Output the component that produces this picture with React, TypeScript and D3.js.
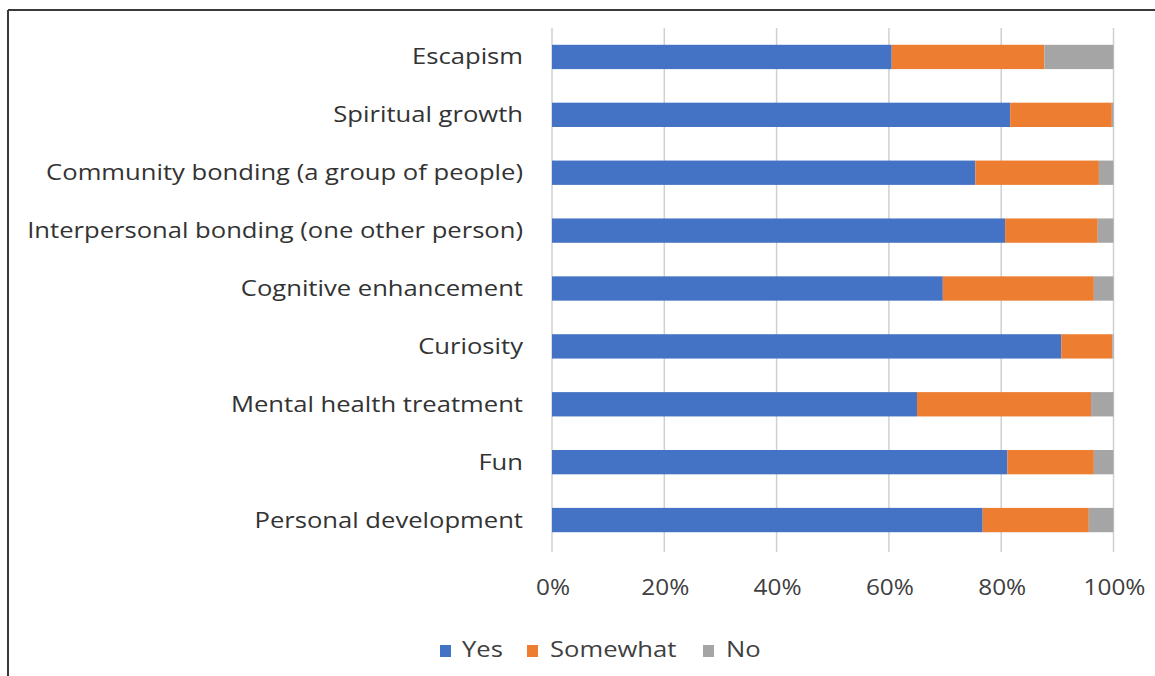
import React from "react";
import * as d3 from "d3";

const categories = [
  "Escapism",
  "Spiritual growth",
  "Community bonding (a group of people)",
  "Interpersonal bonding (one other person)",
  "Cognitive enhancement",
  "Curiosity",
  "Mental health treatment",
  "Fun",
  "Personal development",
];
const yesValues = [60.5, 81.6, 75.4, 80.7, 69.6, 90.7, 65.0, 81.1, 76.7];
const somewhatValues = [27.2, 18.1, 22.0, 16.5, 26.9, 9.1, 31.0, 15.4, 18.9];
const noValues = [12.3, 0.3, 2.6, 2.8, 3.5, 0.2, 4.0, 3.5, 4.4];
const seriesNames = ["Yes", "Somewhat", "No"];
const seriesColors = ["#4472C4", "#ED7D31", "#A5A5A5"];
const xTicks = [0, 20, 40, 60, 80, 100];

const W = 1155;
const H = 676;
const FONT = "'Open Sans', 'Noto Sans', sans-serif";
const STRETCH = 1.22;
const TICK_STRETCH = 1.16;

export default function App() {
  const x = d3.scaleLinear().domain([0, 100]).range([552, 1113.5]);
  const y = d3.scaleBand<string>().domain(categories).range([28, 549]).paddingInner(0.58).paddingOuter(0.29);
  const data = categories.map((c, i) => ({ c, Yes: yesValues[i], Somewhat: somewhatValues[i], No: noValues[i] }));
  const stack = d3.stack<any>().keys(seriesNames)(data);

  const legendItems = [
    { name: "Yes", sx: 440, tx: 462 },
    { name: "Somewhat", sx: 527, tx: 550 },
    { name: "No", sx: 703, tx: 726 },
  ];

  return (
    <svg width={W} height={H} style={{ position: "absolute", left: 0, top: 0, background: "#fff" }} fontFamily={FONT}>
      <line x1={8} y1={10} x2={W} y2={10} stroke="#3a3a3a" strokeWidth={2} />
      <line x1={8} y1={10} x2={8} y2={H} stroke="#3a3a3a" strokeWidth={2} />
      {xTicks.map((t) => (
        <g key={t}>
          <line x1={x(t)} x2={x(t)} y1={28} y2={552} stroke="#d0d0d0" strokeWidth={1.5} />
          <text
            transform={`translate(${x(t) + 1},595) scale(${TICK_STRETCH},1)`}
            textAnchor="middle"
            fontSize={21}
            fill="#404040"
          >
            {t}%
          </text>
        </g>
      ))}
      {stack.map((s, si) => (
        <g key={s.key} fill={seriesColors[si]}>
          {s.map((d, i) => (
            <rect
              key={i}
              x={x(d[0])}
              width={Math.max(0, x(d[1]) - x(d[0]))}
              y={y(categories[i])!}
              height={y.bandwidth()}
            />
          ))}
        </g>
      ))}
      {categories.map((c) => (
        <text
          key={c}
          transform={`translate(523,${y(c)! + y.bandwidth() / 2 + 7.5}) scale(${STRETCH},1)`}
          textAnchor="end"
          fontSize={21}
          fill="#333"
        >
          {c}
        </text>
      ))}
      {legendItems.map((l, i) => (
        <g key={l.name}>
          <rect x={l.sx} y={645} width={11} height={12} fill={seriesColors[i]} />
          <text transform={`translate(${l.tx},657) scale(${STRETCH},1)`} fontSize={21} fill="#404040">
            {l.name}
          </text>
        </g>
      ))}
    </svg>
  );
}
